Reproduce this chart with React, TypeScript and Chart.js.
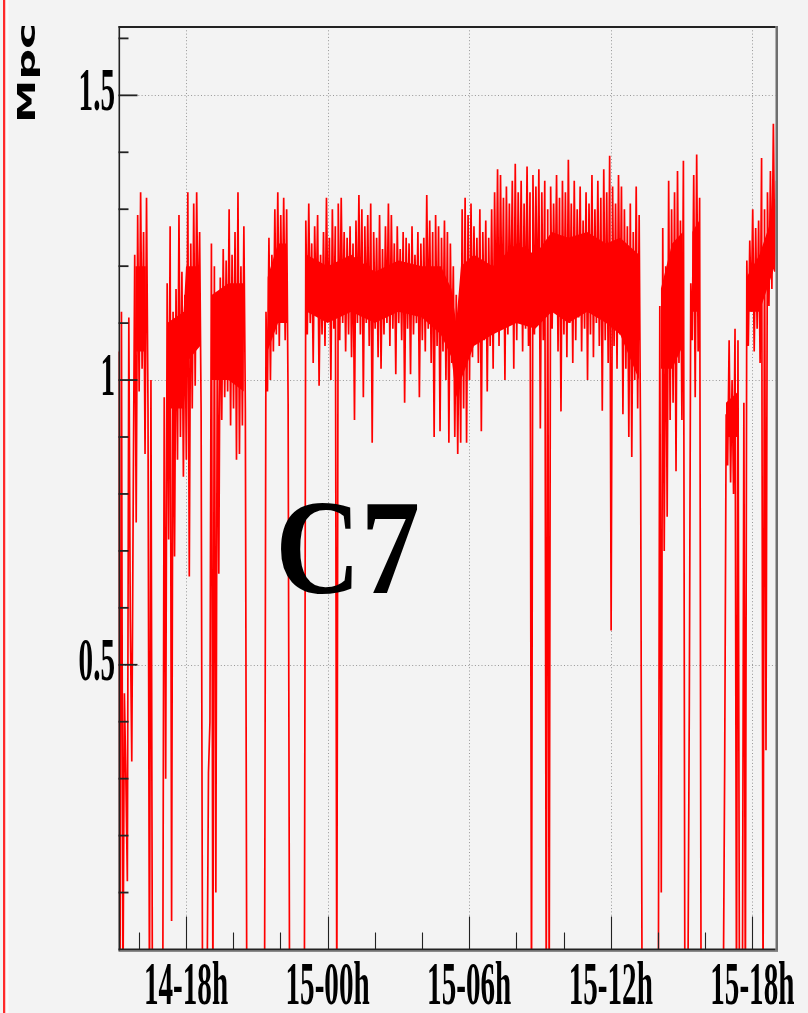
import { useEffect, useRef } from "react";
import { Chart, registerables } from "chart.js";

Chart.register(...registerables);

// ---- data ----
const sampleStartHour = 15.14; // hours counted from 14-00h
const sampleStepHours = 0.0625;
const mpcValues: number[] = [
  1.05, -0.1, 1.12, -0.1, 0.45, 0.3, 0.12, 1.11, 0.58, 0.33, 0.8, 1.22, 0.75, 1.29, 0.98, 1.33, 1.02, 1.26, 0.87, 1.32,
  0.95, -0.1, 1.0, -0.1, -0.1, -0.1, -0.1, -0.1, -0.1, -0.1, -0.1, 0.97, 0.3, 1.17, 0.72, 1.27, 0.05, 1.12, 0.69, 1.16,
  0.86, 1.29, 0.9, 1.19, 0.83, 1.15, 0.86, 1.33, 0.655, 1.24, 0.95, 1.31, 0.99, 1.33, 1.08, 1.26, 0.95, -0.1, -0.1, -0.1,
  -0.1, 0.31, 0.4, 1.24, -0.1, 1.2, 0.1, 1.1, 0.66, 1.18, 0.93, 1.23, 0.97, 1.21, 0.98, 1.3, 0.92, 1.22, 0.95, 1.26,
  0.86, 1.33, 0.87, 1.2, 0.92, 1.27, 0.95, -0.1, -0.1, -0.1, -0.1, -0.1, -0.1, -0.1, -0.1, -0.1, -0.1, -0.1, -0.1, -0.1,
  1.12, 0.98, 1.25, 1.0, 1.22, 1.05, 1.3, 1.08, 1.33, 1.06, 1.29, 1.1, 1.32, 1.07, 1.3, 0.96, -0.1, -0.1, -0.1, -0.1,
  -0.1, -0.1, -0.1, -0.1, -0.1, -0.1, -0.1, 1.28, 1.08, 1.31, 1.1, 1.24, 1.03, 1.27, 1.12, 1.29, 0.99, 1.22, 1.08, 1.26,
  1.06, 1.32, 1.11, 1.25, 1.0, 1.3, 1.09, 1.27, -0.1, 1.31, 1.07, 1.32, 1.1, 1.26, 1.05, 1.25, 1.08, 1.27, 1.04, 1.24,
  0.93, 1.28, 1.1, 1.325, 1.08, 1.3, 0.97, 1.27, 1.1, 1.29, 1.06, 1.31, 0.89, 1.26, 1.09, 1.25, 1.04, 1.29, 1.02, 1.23,
  1.08, 1.27, 1.1, 1.31, 1.06, 1.29, 1.09, 1.24, 1.01, 1.27, 1.1, 1.23, 1.07, 1.26, 0.96, 1.25, 1.09, 1.24, 1.01, 1.27,
  1.08, 1.22, 1.1, 1.26, 0.97, 1.24, 1.07, 1.25, 1.05, 1.325, 1.09, 1.28, 1.03, 1.26, 0.9, 1.29, 1.06, 1.27, 0.91, 1.25,
  1.05, 1.28, 1.0, 1.26, 0.89, 1.24, 1.03, 1.2, 0.9, 1.15, 0.87, 1.13, 0.89, 1.3, 0.95, 1.32, 0.89, 1.29, 1.0, 1.31,
  1.04, 1.27, 1.08, 1.25, 1.03, 1.3, 0.91, 1.26, 1.07, 1.28, 0.98, 1.25, 1.06, 1.3, 1.02, 1.33, 1.09, 1.37, 1.06, 1.36,
  1.1, 1.32, 1.0, 1.34, 1.08, 1.31, 1.11, 1.35, 1.02, 1.38, 1.07, 1.33, 1.1, 1.35, 1.05, 1.31, 1.09, 1.375, 1.06, 1.33,
  -0.1, 1.36, 1.08, 1.34, 1.1, 1.37, 0.915, 1.33, 1.07, 1.35, -0.1, 1.3, -0.1, 1.34, 1.09, 1.31, 1.12, 1.36, 1.05, 1.32,
  0.945, 1.35, 1.08, 1.33, 1.04, 1.387, 1.1, 1.31, 1.03, 1.35, 1.07, 1.3, 1.11, 1.34, 1.05, 1.28, 1.09, 1.33, 1.0, 1.31,
  1.08, 1.36, 1.04, 1.3, 1.1, 1.35, 1.06, 1.32, 0.946, 1.37, 1.07, 1.33, 1.03, 1.394, 0.56, 1.34, 1.06, 1.31, 1.02, 1.36,
  1.08, 1.34, 0.94, 1.3, 1.02, 1.27, 0.9, 1.31, 0.865, 1.26, 1.0, 1.34, 0.95, 1.29, 0.87, -0.1, -0.1, -0.1, -0.1, -0.1,
  -0.1, -0.1, -0.1, -0.1, -0.1, -0.1, -0.1, 1.13, 0.1, 1.267, 0.7, 1.2, 0.76, 1.35, 0.93, 1.3, 0.96, 1.33, 0.84, 1.367,
  1.03, 1.28, 0.93, 1.385, -0.1, -0.1, -0.1, 0.43, 1.17, 1.07, 1.36, 0.97, 1.396, 1.05, 1.32, -0.1, -0.1, -0.1, -0.1, -0.1,
  -0.1, -0.1, -0.1, -0.1, -0.1, -0.1, -0.1, -0.1, -0.1, -0.1, -0.1, 0.33, 0.94, 0.85, 1.07, 0.82, 1.0, 0.8, 1.09, -0.1,
  1.07, -0.1, -0.1, -0.1, 0.96, -0.1, 1.21, 1.06, 1.245, 1.12, 1.3, 1.05, 1.267, 1.09, 1.28, 1.03, 1.39, -0.1, 1.3, 0.35,
  1.33, 1.13, 1.367, 1.16, 1.45, 1.19, 1.35,
];

// dense core of the trace (where the samples overlap into a solid band), null = no band
const bandHours = [
  15.85, 16.3, 16.5,
  17.2, 17.9, 18.0, 18.6, 18.8,
  19.1, 19.8, 20.45, 20.8,
  21.45, 21.9, 22.28, 22.7,
  23.12, 24.0, 25.0, 26.0, 27.0, 28.0, 28.8, 29.25, 29.45, 29.65, 30.2, 31.0, 32.0, 32.8, 33.5, 34.2, 35.0, 35.8, 36.4, 37.2, 37.6,
  38.12, 38.6, 39.05, 39.25,
  39.45, 39.75, 40.2,
  40.88, 41.4, 41.6,
  41.75, 42.3, 42.95,
];
const bandLow = [
  1.05, 1.05, null,
  0.95, 0.95, 1.03, 1.06, null,
  1.0, 1.0, 0.98, null,
  1.05, 1.1, 1.1, null,
  1.12, 1.1, 1.12, 1.1, 1.12, 1.11, 1.08, 1.04, 0.97, 1.0, 1.06, 1.08, 1.1, 1.09, 1.12, 1.1, 1.12, 1.1, 1.08, 1.0, null,
  1.02, 1.02, 1.06, null,
  1.12, 1.12, null,
  0.9, 0.9, null,
  1.12, 1.12, 1.2,
];
const bandHigh = [
  1.2, 1.2, null,
  1.1, 1.12, 1.2, 1.2, null,
  1.15, 1.17, 1.17, null,
  1.18, 1.24, 1.24, null,
  1.22, 1.2, 1.22, 1.19, 1.21, 1.2, 1.2, 1.16, 1.1, 1.2, 1.22, 1.2, 1.24, 1.22, 1.26, 1.25, 1.26, 1.24, 1.25, 1.22, null,
  1.16, 1.24, 1.26, null,
  1.26, 1.28, null,
  0.96, 0.98, null,
  1.18, 1.22, 1.3,
];

const xTickHours = [18, 24, 30, 36, 42];
const xTickLabels = ["14-18h", "15-00h", "15-06h", "15-12h", "15-18h"];
const xMinorTickHours = [16, 20, 22, 26, 28, 32, 34, 38, 40];
const yTickValues = [0.5, 1, 1.5];
const yTickLabels = ["0.5", "1", "1.5"];
const yMinorTickValues = [0.1, 0.2, 0.3, 0.4, 0.6, 0.7, 0.8, 0.9, 1.1, 1.2, 1.3, 1.4, 1.6];
const axisTitle = "Mpc";
const padLabel = "C7";

const X_MIN = 15.14;
const X_MAX = 42.98;
const Y_MIN = 0;
const Y_MAX = 1.62;

function drawScaled(
  ctx: CanvasRenderingContext2D,
  text: string,
  x: number,
  y: number,
  sx: number,
  sy: number,
  align: CanvasTextAlign
) {
  ctx.save();
  ctx.translate(x, y);
  ctx.scale(sx, sy);
  ctx.textAlign = align;
  ctx.textBaseline = "alphabetic";
  ctx.fillText(text, 0, 0);
  ctx.restore();
}

const rootPlugin = {
  id: "rootStyle",
  beforeDraw(chart: any) {
    const { ctx, width, height } = chart;
    ctx.save();
    ctx.fillStyle = "#f3f3f3";
    ctx.fillRect(0, 0, width, height);
    ctx.fillStyle = "#ff2a2a";
    ctx.fillRect(3, 0, 2.5, height);
    ctx.fillStyle = "#fbfbfb";
    ctx.fillRect(5.5, 0, 3, height);
    ctx.restore();
  },
  beforeDatasetsDraw(chart: any) {
    const { ctx, chartArea: a } = chart;
    const xs = chart.scales.x;
    const ys = chart.scales.y;
    ctx.save();
    ctx.strokeStyle = "#979797";
    ctx.lineWidth = 1;
    ctx.setLineDash([1, 2.3]);
    for (const h of xTickHours) {
      const px = Math.round(xs.getPixelForValue(h)) + 0.5;
      ctx.beginPath();
      ctx.moveTo(px, a.top);
      ctx.lineTo(px, a.bottom);
      ctx.stroke();
    }
    for (const v of yTickValues) {
      const py = Math.round(ys.getPixelForValue(v)) + 0.5;
      ctx.beginPath();
      ctx.moveTo(a.left, py);
      ctx.lineTo(a.right, py);
      ctx.stroke();
    }
    ctx.restore();
  },
  afterDraw(chart: any) {
    const { ctx, chartArea: a } = chart;
    const xs = chart.scales.x;
    const ys = chart.scales.y;
    ctx.save();

    // frame
    ctx.fillStyle = "#6e6e6e";
    ctx.fillRect(a.right, a.top - 1, 2.5, a.bottom - a.top + 3);
    ctx.fillStyle = "#8a8a8a";
    ctx.fillRect(a.left, a.bottom + 1, a.right - a.left + 2.5, 1.5);
    ctx.fillStyle = "#222";
    ctx.fillRect(a.left, a.top - 1, a.right - a.left, 2);
    ctx.fillRect(a.left, a.top - 1, 1.6, a.bottom - a.top + 2);
    ctx.fillRect(a.left, a.bottom - 1, a.right - a.left, 2);

    // y ticks (inside)
    ctx.strokeStyle = "#222";
    ctx.lineWidth = 1.8;
    for (const v of yMinorTickValues) {
      const py = ys.getPixelForValue(v);
      ctx.beginPath();
      ctx.moveTo(a.left, py);
      ctx.lineTo(a.left + 10, py);
      ctx.stroke();
    }
    for (const v of yTickValues) {
      const py = ys.getPixelForValue(v);
      ctx.beginPath();
      ctx.moveTo(a.left, py);
      ctx.lineTo(a.left + 19, py);
      ctx.stroke();
    }
    // x ticks (inside)
    ctx.lineWidth = 1.1;
    for (const h of xMinorTickHours) {
      const px = Math.round(xs.getPixelForValue(h)) + 0.5;
      ctx.beginPath();
      ctx.moveTo(px, a.bottom);
      ctx.lineTo(px, a.bottom - 17);
      ctx.stroke();
    }
    for (const h of xTickHours) {
      const px = Math.round(xs.getPixelForValue(h)) + 0.5;
      ctx.beginPath();
      ctx.moveTo(px, a.bottom);
      ctx.lineTo(px, a.bottom - 33);
      ctx.stroke();
    }

    // tick labels
    ctx.fillStyle = "#000";
    ctx.font = 'bold 62px "Liberation Serif"';
    xTickHours.forEach((h, i) => {
      drawScaled(ctx, xTickLabels[i], xs.getPixelForValue(h), 1004, 0.47, 1, "center");
    });
    yTickValues.forEach((v, i) => {
      drawScaled(ctx, yTickLabels[i], 115, ys.getPixelForValue(v) + 15, 0.47, 1, "right");
    });

    // axis title: rotated to read upwards, stretched along its length to ~100 px
    ctx.font = 'bold 25px "DejaVu Sans"';
    const tw = ctx.measureText(axisTitle).width || 57;
    const s = 100 / tw;
    ctx.save();
    ctx.setTransform(0, -s, 1, 0, 35, 73);
    ctx.textAlign = "center";
    ctx.textBaseline = "alphabetic";
    ctx.fillText(axisTitle, 0, 0);
    ctx.restore();

    // pad label
    ctx.font = 'bold 136px "Liberation Serif"';
    drawScaled(ctx, padLabel, 347.5, 593, 0.87, 1, "center");

    ctx.restore();
  },
};

export default function App() {
  const canvasRef = useRef<HTMLCanvasElement | null>(null);

  useEffect(() => {
    const canvas = canvasRef.current;
    if (!canvas) return;
    const points = mpcValues.map((v, i) => ({ x: sampleStartHour + i * sampleStepHours, y: v }));
    const highPts = bandHours.map((h, i) => ({ x: h, y: bandHigh[i] }));
    const lowPts = bandHours.map((h, i) => ({ x: h, y: bandLow[i] }));
    const chart = new Chart(canvas, {
      type: "line",
      data: {
        datasets: [
          {
            data: points,
            borderColor: "#ff0000",
            borderWidth: 1.7,
            borderJoinStyle: "bevel",
            pointRadius: 0,
            tension: 0,
            fill: false,
            clip: 0,
          } as any,
          {
            data: highPts,
            borderWidth: 0,
            borderColor: "rgba(0,0,0,0)",
            backgroundColor: "#ff0000",
            pointRadius: 0,
            tension: 0,
            spanGaps: false,
            fill: "+1",
            clip: 0,
          } as any,
          {
            data: lowPts,
            borderWidth: 0,
            borderColor: "rgba(0,0,0,0)",
            pointRadius: 0,
            tension: 0,
            spanGaps: false,
            fill: false,
            clip: 0,
          } as any,
        ],
      },
      options: {
        animation: false,
        responsive: false,
        devicePixelRatio: 1,
        events: [],
        layout: { padding: { left: 118.5, right: 32.5, top: 27, bottom: 63.5 } },
        plugins: { legend: { display: false }, tooltip: { enabled: false }, filler: { propagate: false } },
        scales: {
          x: { type: "linear", min: X_MIN, max: X_MAX, display: false },
          y: { type: "linear", min: Y_MIN, max: Y_MAX, display: false },
        },
      },
      plugins: [rootPlugin],
    });
    return () => chart.destroy();
  }, []);

  return (
    <div style={{ position: "fixed", left: 0, top: 0, width: 808, height: 1013 }}>
      <canvas ref={canvasRef} width={808} height={1013} style={{ display: "block", width: 808, height: 1013 }} />
    </div>
  );
}
